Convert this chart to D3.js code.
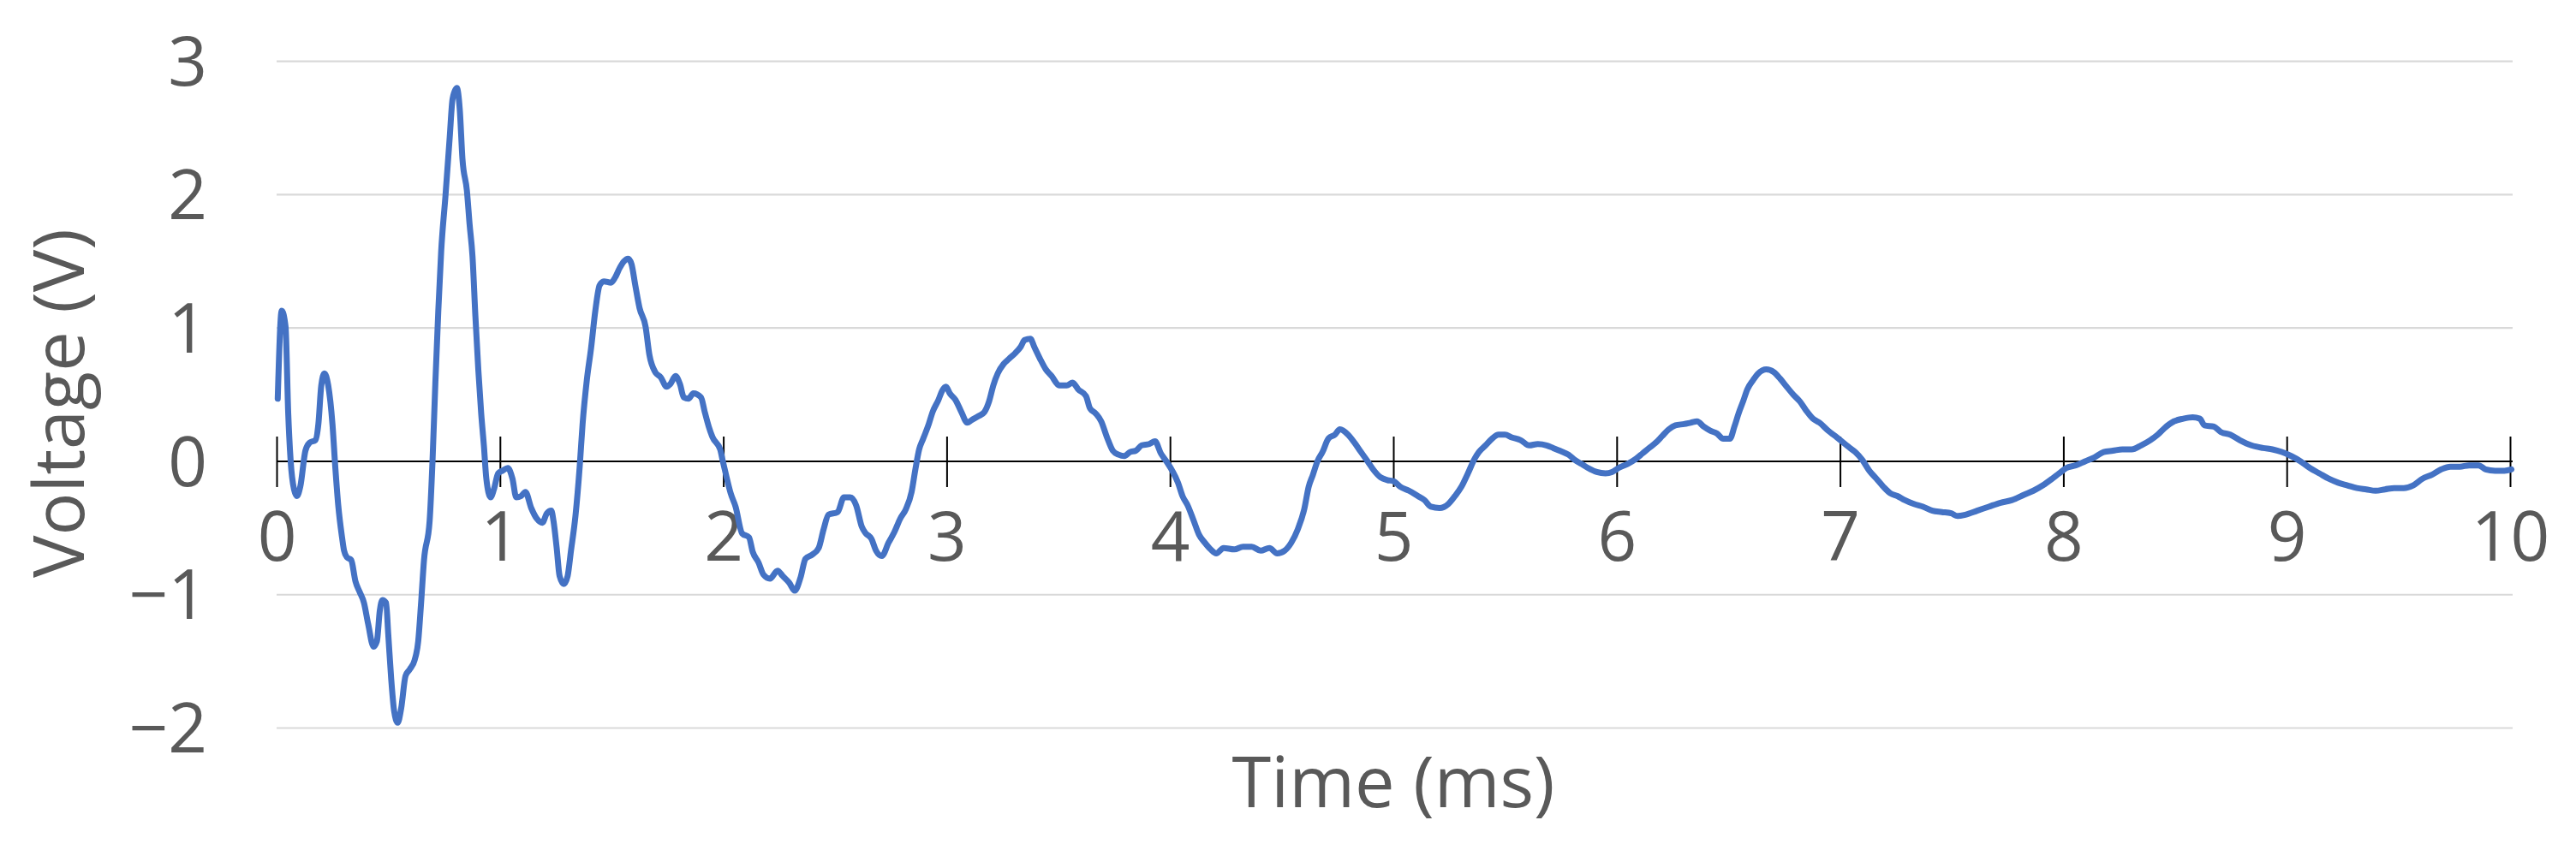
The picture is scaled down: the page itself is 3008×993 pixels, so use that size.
<!DOCTYPE html>
<html>
<head>
<meta charset="utf-8">
<script src="https://cdn.jsdelivr.net/npm/d3@7"></script>
<style>
  html, body { margin: 0; padding: 0; background: #ffffff; }
  svg { display: block; }
  text { font-family: "Open Sans", "Noto Sans", sans-serif; fill: #595959; }
</style>
</head>
<body>
<svg id="chart" width="3008" height="993"></svg>
<script>
// ---- data ----
const timeMs = [
  0.005,0.023,0.040,0.052,0.063,0.078,0.091,0.106,0.129,0.148,0.174,0.187,0.200,0.214,0.231,0.250,0.263,0.276,0.293,0.302,
  0.315,0.334,0.353,0.372,0.391,0.410,0.434,0.449,0.462,0.474,0.490,0.500,0.513,0.526,0.542,0.558,0.577,0.596,0.618,0.634,
  0.647,0.660,0.685,0.698,0.711,0.724,0.737,0.756,0.775,0.788,0.807,0.820,0.832,0.852,0.864,0.877,0.890,0.903,0.916,0.928,
  0.939,0.958,0.973,0.992,1.012,1.035,1.056,1.073,1.095,1.114,1.140,1.165,1.190,1.210,1.230,1.240,1.254,1.267,1.286,1.303,
  1.318,1.338,1.357,1.370,1.389,1.408,1.427,1.446,1.465,1.497,1.516,1.536,1.555,1.574,1.589,1.606,1.625,
  1.652,1.669,1.695,1.720,1.746,1.763,1.786,1.806,1.823,1.844,1.866,1.900,1.917,1.935,1.952,1.986,1.998,2.012,2.033,2.055,
  2.084,2.115,2.132,2.158,2.180,2.209,2.243,2.266,2.295,2.320,2.346,2.368,2.398,2.427,2.449,2.471,2.512,2.540,2.569,2.595,
  2.620,2.638,2.663,2.684,2.710,2.740,2.766,2.792,2.817,2.843,2.860,2.877,2.895,2.920,2.937,2.963,2.980,2.997,3.014,3.040,
  3.066,3.092,3.112,3.143,3.169,3.190,3.209,3.229,3.255,3.280,3.306,3.332,3.349,3.375,3.392,3.418,3.444,3.470,3.504,3.538,
  3.564,3.589,3.624,3.641,3.667,3.692,3.718,3.744,3.770,3.796,3.821,3.847,3.873,3.907,3.933,3.959,3.984,4.010,4.036,4.056,
  4.079,4.105,4.130,4.156,4.182,4.207,
  4.240,4.288,4.327,4.366,4.406,4.445,4.480,4.513,4.543,4.572,4.601,4.621,4.640,4.660,4.683,4.709,4.738,4.761,4.797,4.826,
  4.855,4.885,4.914,4.943,4.973,5.002,5.031,5.070,5.110,5.139,5.168,5.207,5.246,5.276,5.305,5.334,5.364,5.383,5.413,5.442,
  5.471,5.500,5.530,5.569,5.608,5.647,5.686,5.716,5.745,5.784,5.813,5.843,5.872,5.911,5.950,5.979,6.008,6.048,6.087,6.116,
  6.145,6.175,6.204,6.233,6.263,6.302,6.331,6.360,6.390,6.419,6.448,6.477,6.507,6.527,6.546,6.566,6.585,6.611,6.634,6.670,
  6.703,6.732,6.761,6.791,6.820,6.849,6.879,6.908,6.947,6.986,
  7.037,7.068,7.100,7.131,7.163,7.194,7.226,7.257,7.289,7.331,7.372,7.414,7.456,7.498,7.526,7.561,7.614,7.666,7.719,7.771,
  7.824,7.866,7.908,7.950,7.981,8.013,8.055,8.097,8.139,8.180,8.222,8.264,8.306,8.348,8.390,8.422,8.453,8.495,8.537,8.579,
  8.611,8.632,8.674,8.705,8.747,8.789,8.842,8.894,8.936,8.978,9.020,9.062,9.104,9.146,9.188,9.230,9.272,9.314,9.356,9.398,
  9.440,9.482,9.524,9.566,9.608,9.650,9.692,9.733,9.775,9.817,9.859,9.891,9.933,9.975,10.006
];
const voltageV = [
  0.47,1.13,1.01,0.36,0.00,-0.21,-0.26,-0.19,0.08,0.14,0.16,0.28,0.57,0.66,0.57,0.28,-0.05,-0.33,-0.57,-0.67,
  -0.72,-0.74,-0.90,-0.98,-1.06,-1.22,-1.39,-1.35,-1.12,-1.04,-1.06,-1.30,-1.63,-1.87,-1.96,-1.85,-1.61,-1.56,-1.49,-1.35,
  -1.06,-0.74,-0.45,0.00,0.60,1.13,1.58,1.99,2.43,2.72,2.80,2.64,2.27,2.03,1.78,1.54,1.09,0.69,0.36,0.12,
  -0.13,-0.27,-0.21,-0.09,-0.07,-0.05,-0.13,-0.27,-0.26,-0.23,-0.35,-0.43,-0.46,-0.39,-0.37,-0.45,-0.65,-0.86,-0.92,-0.86,
  -0.67,-0.41,-0.04,0.28,0.61,0.85,1.13,1.32,1.35,1.34,1.38,1.45,1.50,1.52,1.48,1.32,1.15,
  1.01,0.80,0.67,0.63,0.56,0.58,0.64,0.58,0.48,0.47,0.51,0.48,0.37,0.26,0.18,0.09,0.00,-0.10,-0.24,-0.34,
  -0.54,-0.57,-0.68,-0.76,-0.85,-0.88,-0.82,-0.86,-0.91,-0.97,-0.87,-0.73,-0.70,-0.65,-0.51,-0.40,-0.38,-0.27,-0.27,-0.33,
  -0.49,-0.54,-0.58,-0.67,-0.71,-0.61,-0.53,-0.43,-0.36,-0.23,-0.06,0.09,0.17,0.28,0.37,0.46,0.53,0.56,0.51,0.46,
  0.37,0.29,0.31,0.34,0.37,0.45,0.57,0.66,0.73,0.77,0.81,0.86,0.91,0.92,0.86,0.77,0.69,0.64,0.57,0.57,
  0.59,0.54,0.49,0.40,0.36,0.30,0.18,0.08,0.05,0.04,0.07,0.08,0.12,0.13,0.15,0.06,0.00,-0.07,-0.16,-0.26,
  -0.33,-0.44,-0.55,-0.61,-0.66,-0.69,
  -0.65,-0.66,-0.64,-0.64,-0.67,-0.65,-0.69,-0.67,-0.61,-0.51,-0.36,-0.19,-0.10,0.00,0.07,0.17,0.20,0.24,0.20,0.14,
  0.07,0.00,-0.07,-0.12,-0.14,-0.15,-0.19,-0.22,-0.26,-0.29,-0.34,-0.35,-0.32,-0.26,-0.19,-0.09,0.02,0.07,0.12,0.17,
  0.20,0.20,0.18,0.16,0.12,0.13,0.12,0.10,0.08,0.05,0.01,-0.02,-0.05,-0.08,-0.09,-0.08,-0.05,-0.02,0.02,0.06,
  0.10,0.14,0.19,0.24,0.27,0.28,0.29,0.30,0.26,0.23,0.21,0.17,0.17,0.26,0.36,0.45,0.54,0.61,0.66,0.69,
  0.67,0.62,0.56,0.50,0.45,0.38,0.32,0.29,0.23,0.18,
  0.11,0.07,0.01,-0.07,-0.13,-0.19,-0.24,-0.26,-0.29,-0.32,-0.34,-0.37,-0.38,-0.39,-0.41,-0.40,-0.37,-0.34,-0.31,-0.29,
  -0.25,-0.22,-0.18,-0.13,-0.09,-0.05,-0.03,0.00,0.03,0.07,0.08,0.09,0.09,0.12,0.16,0.20,0.25,0.30,0.32,0.33,
  0.32,0.27,0.26,0.22,0.20,0.16,0.12,0.10,0.09,0.07,0.04,0.00,-0.05,-0.09,-0.13,-0.16,-0.18,-0.20,-0.21,-0.22,
  -0.21,-0.20,-0.20,-0.18,-0.13,-0.10,-0.06,-0.04,-0.04,-0.03,-0.03,-0.06,-0.07,-0.07,-0.06
];
const xTickValues = [0,1,2,3,4,5,6,7,8,9,10];
const xTickLabels = ["0","1","2","3","4","5","6","7","8","9","10"];
const yTickValues = [-2,-1,0,1,2,3];
const yTickLabels = ["\u22122","\u22121","0","1","2","3"];
const xTitle = "Time (ms)";
const yTitle = "Voltage (V)";

// ---- layout ----
const svg = d3.select("#chart");
const plotLeft = 323, plotRight = 2931, plotTop = 71.7, plotBottom = 850.5;

const x = d3.scaleLinear().domain([0, 10]).range([plotLeft, plotRight]);
const y = d3.scaleLinear().domain([-2, 3]).range([plotBottom, plotTop]);

// gridlines
svg.append("g").selectAll("line")
  .data(yTickValues.filter(v => v !== 0))
  .join("line")
  .attr("x1", plotLeft).attr("x2", plotRight + 3)
  .attr("y1", d => y(d)).attr("y2", d => y(d))
  .attr("stroke", "#d9d9d9").attr("stroke-width", 2.2);

// y tick labels
svg.append("g").selectAll("text")
  .data(yTickValues)
  .join("text")
  .attr("x", plotLeft - 81)
  .attr("y", d => y(d))
  .attr("dy", "0.357em")
  .attr("text-anchor", "end")
  .attr("font-size", 80)
  .text((d, i) => yTickLabels[i]);

// x axis at zero with ticks crossing the line
const xAxis = d3.axisBottom(x)
  .tickValues(xTickValues)
  .tickSize(0)
  .tickFormat((d, i) => xTickLabels[i]);
const gx = svg.append("g").attr("transform", `translate(0,${y(0)})`).call(xAxis);
gx.select(".domain").attr("stroke", "#000").attr("stroke-width", 2)
  .attr("d", `M${plotLeft},0H${plotRight + 3}`);
gx.selectAll(".tick line").remove();
gx.selectAll(".tick").append("line")
  .attr("y1", -29).attr("y2", 30)
  .attr("stroke", "#000").attr("stroke-width", 2);
gx.selectAll(".tick text")
  .attr("y", 116).attr("dy", 0)
  .attr("font-size", 80)
  .attr("font-family", "\"Open Sans\", \"Noto Sans\", sans-serif")
  .attr("fill", "#595959");

// data line
const pts = timeMs.map((t, i) => [t, voltageV[i]]);
const line = d3.line()
  .x(d => x(d[0]))
  .y(d => y(d[1]))
  .curve(d3.curveMonotoneX);
svg.append("path")
  .datum(pts)
  .attr("d", line)
  .attr("fill", "none")
  .attr("stroke", "#4472c4")
  .attr("stroke-width", 7)
  .attr("stroke-linejoin", "round")
  .attr("stroke-linecap", "round");

// axis titles
svg.append("text")
  .attr("x", (plotLeft + plotRight) / 2)
  .attr("y", 943)
  .attr("text-anchor", "middle")
  .attr("font-size", 83)
  .text(xTitle);

svg.append("text")
  .attr("transform", `translate(98,${(plotTop + plotBottom) / 2 + 10}) rotate(-90)`)
  .attr("text-anchor", "middle")
  .attr("font-size", 83)
  .text(yTitle);
</script>
</body>
</html>
